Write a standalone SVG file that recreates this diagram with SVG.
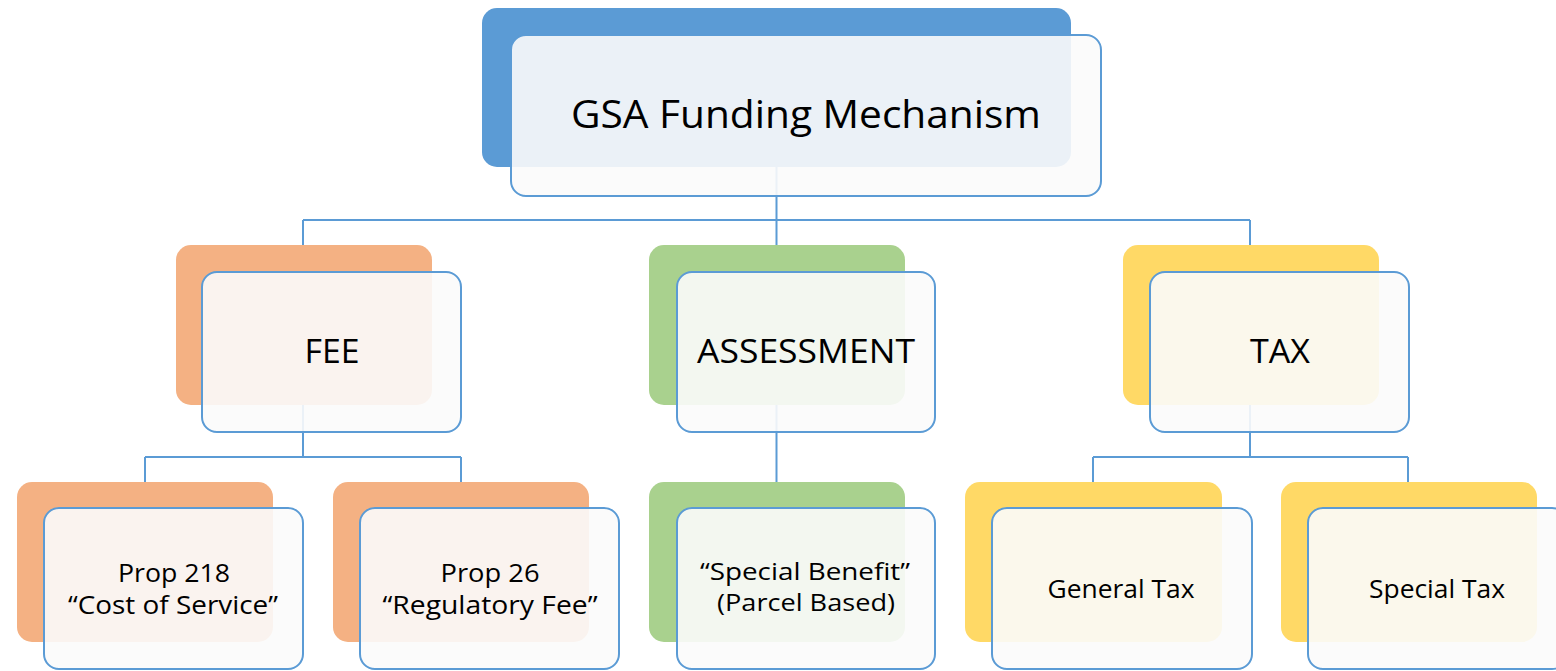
<svg xmlns="http://www.w3.org/2000/svg" width="1556" height="671" viewBox="0 0 1556 671">
<style>
.back{stroke:none}
.blue{fill:#5B9BD5}
.orange{fill:#F4B183}
.green{fill:#A9D18E}
.yellow{fill:#FFD966}
.front{fill:#FBFBFB;fill-opacity:0.9;stroke:#5B9BD5;stroke-width:2}
.conn{fill:none;stroke:#5B9BD5;stroke-width:2}
text{font-family:"Open Sans","Noto Sans","Liberation Sans",sans-serif;fill:#000;text-anchor:middle}
.t1{font-size:39px}
.t2{font-size:33px}
.t3{font-size:25px}
.t4{font-size:23px}
</style>
<rect width="1556" height="671" fill="#FFFFFF"/>
<g id="connectors">
<path class="conn" d="M776.5 167 V220 M303 220 H1250 M303 220 V245 M776.5 220 V245 M1250 220 V245"/>
<path class="conn" d="M303 405 V457 M145 457 H461 M145 457 V482 M461 457 V482"/>
<path class="conn" d="M776.5 405 V482"/>
<path class="conn" d="M1250 405 V457 M1093 457 H1408 M1093 457 V482 M1408 457 V482"/>
</g>
<g id="node-gsa">
<rect class="back blue" x="482" y="8" width="589" height="159" rx="15"/>
<rect class="front" x="511" y="35" width="590" height="161" rx="15"/>
<text class="t1" x="806" y="128" textLength="470" lengthAdjust="spacingAndGlyphs">GSA Funding Mechanism</text>
</g>
<g id="node-fee">
<rect class="back orange" x="176" y="245" width="256" height="160" rx="15"/>
<rect class="front" x="202" y="272" width="259" height="160" rx="15"/>
<text class="t2" x="332" y="363" textLength="55" lengthAdjust="spacingAndGlyphs">FEE</text>
</g>
<g id="node-assessment">
<rect class="back green" x="649" y="245" width="256" height="160" rx="15"/>
<rect class="front" x="677" y="272" width="258" height="160" rx="15"/>
<text class="t2" x="806" y="363" textLength="218" lengthAdjust="spacingAndGlyphs">ASSESSMENT</text>
</g>
<g id="node-tax">
<rect class="back yellow" x="1123" y="245" width="256" height="160" rx="15"/>
<rect class="front" x="1150" y="272" width="259" height="160" rx="15"/>
<text class="t2" x="1280" y="363" textLength="60" lengthAdjust="spacingAndGlyphs">TAX</text>
</g>
<g id="node-prop218">
<rect class="back orange" x="17" y="482" width="256" height="160" rx="15"/>
<rect class="front" x="44" y="508" width="259" height="161" rx="15"/>
<text class="t3" x="174" y="582" textLength="112" lengthAdjust="spacingAndGlyphs">Prop 218</text>
<text class="t3" x="173" y="614" textLength="210" lengthAdjust="spacingAndGlyphs">“Cost of Service”</text>
</g>
<g id="node-prop26">
<rect class="back orange" x="333" y="482" width="256" height="160" rx="15"/>
<rect class="front" x="360" y="508" width="259" height="161" rx="15"/>
<text class="t3" x="490" y="582" textLength="99" lengthAdjust="spacingAndGlyphs">Prop 26</text>
<text class="t3" x="490" y="614" textLength="215" lengthAdjust="spacingAndGlyphs">“Regulatory Fee”</text>
</g>
<g id="node-special-benefit">
<rect class="back green" x="649" y="482" width="256" height="160" rx="15"/>
<rect class="front" x="677" y="508" width="258" height="161" rx="15"/>
<text class="t4" x="805" y="580" textLength="210" lengthAdjust="spacingAndGlyphs">“Special Benefit”</text>
<text class="t4" x="806" y="611" textLength="178" lengthAdjust="spacingAndGlyphs">(Parcel Based)</text>
</g>
<g id="node-general-tax">
<rect class="back yellow" x="965" y="482" width="257" height="160" rx="15"/>
<rect class="front" x="992" y="508" width="260" height="161" rx="15"/>
<text class="t3" x="1121" y="598" textLength="147" lengthAdjust="spacingAndGlyphs">General Tax</text>
</g>
<g id="node-special-tax">
<rect class="back yellow" x="1281" y="482" width="256" height="160" rx="15"/>
<rect class="front" x="1308" y="508" width="259" height="161" rx="15"/>
<text class="t3" x="1437" y="598" textLength="136" lengthAdjust="spacingAndGlyphs">Special Tax</text>
</g>
</svg>
